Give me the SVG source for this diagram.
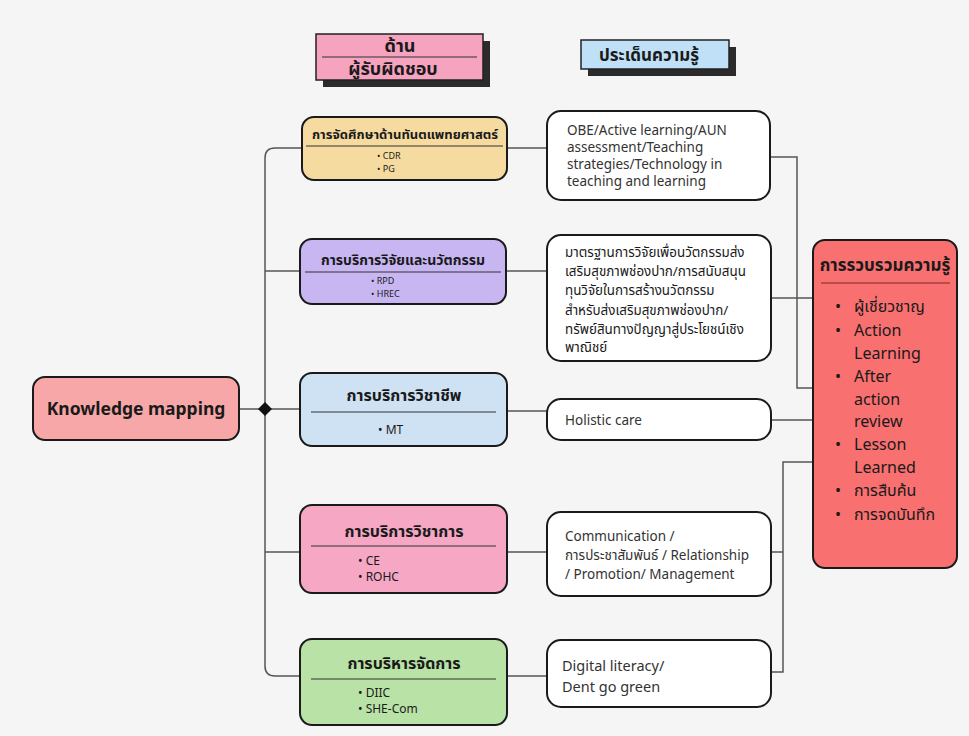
<svg xmlns="http://www.w3.org/2000/svg" width="969" height="736" viewBox="0 0 969 736">
<style>
text{font-family:"Noto Sans","Noto Sans Thai","Open Sans",sans-serif;fill:#1a1a1a}
.hdr{font-size:18px;font-weight:bold;text-anchor:middle}
.ttl{font-weight:bold;text-anchor:middle}
.sm{font-size:9px}
.md{font-size:12px}
.body{font-size:13.5px;fill:#333}
.node{stroke:#1a1a1a;stroke-width:2}
.conn{fill:none;stroke:#555;stroke-width:1.5}
.div{stroke:#333;stroke-width:1.2}
</style>
<rect width="969" height="736" fill="#f5f5f5"/>

<g id="header-resp">
<rect x="323" y="41" width="167" height="46" fill="#2b2b2b"/>
<rect x="316" y="34" width="167" height="46" fill="#f5a3bf" stroke="#222" stroke-width="1.5"/>
<line x1="322" y1="57" x2="477" y2="57" class="div"/>
<text x="400" y="52" class="hdr">ด้าน</text>
<text x="393" y="75" class="hdr">ผู้รับผิดชอบ</text>
</g>
<g id="header-topic">
<rect x="588" y="47" width="148" height="29" fill="#2b2b2b"/>
<rect x="581" y="40" width="148" height="29" fill="#bfe0f7" stroke="#222" stroke-width="1.5"/>
<text x="649" y="61" class="hdr" style="font-size:17px">ประเด็นความรู้</text>
</g>

<g id="connectors">
<path class="conn" d="M302 148 H275 Q265 148 265 158 V666 Q265 676 275 676 H302"/>
<path class="conn" d="M265 271 H300 M239 409 H300 M265 552 H300"/>
<path class="conn" d="M507 148 H547 M506 271 H547 M507 411 H547 M507 552 H547 M507 676 H547"/>
<path class="conn" d="M770 157 H797 V388 H813 M771 298 H813 M771 420 H813 M771 552 H783 V462 H813 M771 672 H783 V462"/>
<path d="M265 402 L272 409 L265 416 L258 409 Z" fill="#111"/>
</g>

<g id="knowledge-mapping">
<rect x="33" y="377" width="206" height="63" rx="12" fill="#f7a7a7" class="node"/>
<text x="136" y="415" class="ttl" style="font-size:17.5px">Knowledge mapping</text>
</g>

<g id="edu">
<rect x="302" y="117" width="205" height="63" rx="12" fill="#f6dba0" class="node"/>
<text x="405" y="139" class="ttl" style="font-size:13px">การจัดศึกษาด้านทันตแพทยศาสตร์</text>
<line x1="306" y1="146" x2="503" y2="146" class="div"/>
<text x="377" y="159" class="sm">•  CDR</text>
<text x="377" y="172" class="sm">•  PG</text>
</g>

<g id="research">
<rect x="300" y="239" width="206" height="65" rx="12" fill="#c8b6f2" class="node"/>
<text x="403" y="265" class="ttl" style="font-size:14px">การบริการวิจัยและนวัตกรรม</text>
<line x1="305" y1="272" x2="501" y2="272" class="div"/>
<text x="371" y="284" class="sm">•  RPD</text>
<text x="371" y="297" class="sm">•  HREC</text>
</g>

<g id="professional">
<rect x="300" y="373" width="207" height="73" rx="12" fill="#cfe2f3" class="node"/>
<text x="404" y="401" class="ttl" style="font-size:16px">การบริการวิชาชีพ</text>
<line x1="311" y1="412" x2="496" y2="412" class="div"/>
<text x="378" y="434" class="md">•  MT</text>
</g>

<g id="academic">
<rect x="300" y="505" width="207" height="88" rx="12" fill="#f5a7c4" class="node"/>
<text x="404" y="537" class="ttl" style="font-size:16px">การบริการวิชาการ</text>
<line x1="311" y1="546" x2="496" y2="546" class="div"/>
<text x="358" y="565" class="md">•  CE</text>
<text x="358" y="581" class="md">•  ROHC</text>
</g>

<g id="management">
<rect x="300" y="639" width="207" height="86" rx="12" fill="#b9e2a6" class="node"/>
<text x="404" y="669" class="ttl" style="font-size:16px">การบริหารจัดการ</text>
<line x1="311" y1="679" x2="496" y2="679" class="div"/>
<text x="358" y="697" class="md">•  DIIC</text>
<text x="358" y="713" class="md">•  SHE-Com</text>
</g>

<g id="topic-edu">
<rect x="547" y="111" width="223" height="89" rx="14" fill="#fff" class="node"/>
<text class="body"><tspan x="567" y="135">OBE/Active learning/AUN</tspan><tspan x="567" y="152">assessment/Teaching</tspan><tspan x="567" y="169">strategies/Technology in</tspan><tspan x="567" y="186">teaching and learning</tspan></text>
</g>

<g id="topic-research">
<rect x="547" y="235" width="224" height="126" rx="14" fill="#fff" class="node"/>
<text class="body" style="fill:#1a1a1a;font-size:13.4px"><tspan x="565" y="257">มาตรฐานการวิจัยเพื่อนวัตกรรมส่ง</tspan><tspan x="565" y="276">เสริมสุขภาพช่องปาก/การสนับสนุน</tspan><tspan x="565" y="295">ทุนวิจัยในการสร้างนวัตกรรม</tspan><tspan x="565" y="315">สำหรับส่งเสริมสุขภาพช่องปาก/</tspan><tspan x="565" y="334">ทรัพย์สินทางปัญญาสู่ประโยชน์เชิง</tspan><tspan x="565" y="352">พาณิชย์</tspan></text>
</g>

<g id="topic-professional">
<rect x="547" y="399" width="224" height="41" rx="14" fill="#fff" class="node"/>
<text x="565" y="425" class="body">Holistic care</text>
</g>

<g id="topic-academic">
<rect x="547" y="512" width="224" height="84" rx="14" fill="#fff" class="node"/>
<text class="body"><tspan x="565" y="541">Communication /</tspan><tspan x="565" y="560">การประชาสัมพันธ์ / Relationship</tspan><tspan x="565" y="579">/ Promotion/ Management</tspan></text>
</g>

<g id="topic-management">
<rect x="547" y="640" width="224" height="67" rx="14" fill="#fff" class="node"/>
<text class="body" style="font-size:14.5px"><tspan x="562" y="671">Digital literacy/</tspan><tspan x="562" y="692">Dent go green</tspan></text>
</g>

<g id="collection">
<rect x="813" y="240" width="144" height="328" rx="12" fill="#f87070" class="node"/>
<text x="885" y="271" class="ttl" style="font-size:17px">การรวบรวมความรู้</text>
<line x1="821" y1="283" x2="950" y2="283" stroke="#7a2a2a" stroke-width="1.2"/>
<g style="font-size:16px">
<text x="835" y="312">•</text><text x="854" y="312">ผู้เชี่ยวชาญ</text>
<text x="835" y="336">•</text><text x="854" y="336">Action</text>
<text x="854" y="359">Learning</text>
<text x="835" y="382">•</text><text x="854" y="382">After</text>
<text x="854" y="405">action</text>
<text x="854" y="427">review</text>
<text x="835" y="450">•</text><text x="854" y="450">Lesson</text>
<text x="854" y="473">Learned</text>
<text x="835" y="496">•</text><text x="854" y="496">การสืบค้น</text>
<text x="835" y="520">•</text><text x="854" y="520">การจดบันทึก</text>
</g>
</g>
</svg>
